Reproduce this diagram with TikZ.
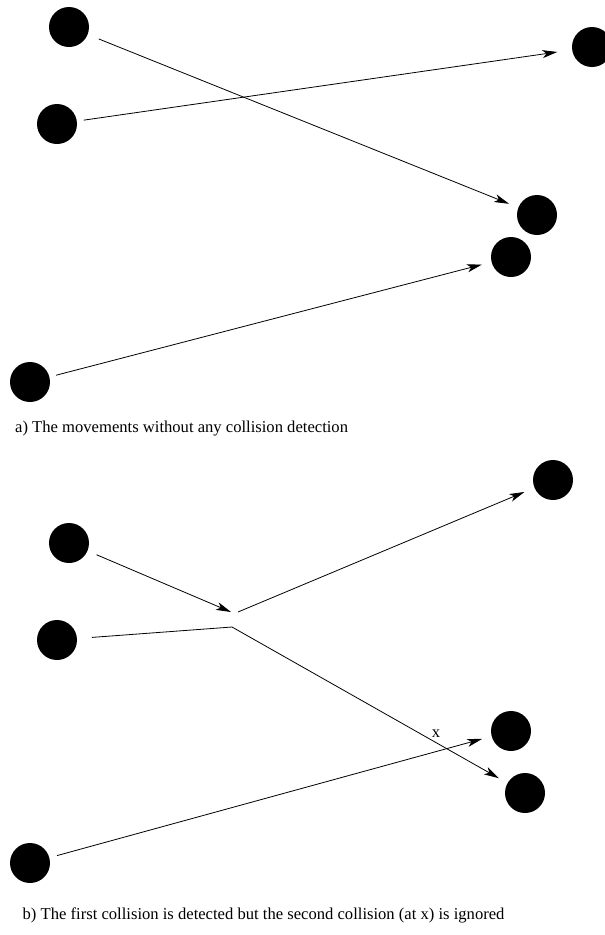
\documentclass[tikz,border=0pt]{standalone}
\usepackage{fontspec}
\setmainfont{Liberation Serif}
\usetikzlibrary{arrows.meta}

\tikzset{
  ball/.style={circle,fill=black,inner sep=0pt,outer sep=0pt,minimum size=40pt},
  mv/.style={line width=0.8pt},
  mvarr/.style={mv,-{Stealth[length=15pt,width=8pt,inset=4pt]}},
  caption/.style={anchor=base west,inner sep=0pt,font=\fontsize{16.6}{19}\selectfont}
}

\begin{document}
\begin{tikzpicture}[x=1pt,y=-1pt]
  \useasboundingbox (0,0) rectangle (605,935);

  % a) no collision detection
  \node[ball] (a1) at (69,27) {};
  \node[ball] (a2) at (57,124) {};
  \node[ball] (a3) at (592,47) {};
  \node[ball] (a4) at (537,215) {};
  \node[ball] (a5) at (511,257) {};
  \node[ball] (a6) at (30,382) {};

  \draw[mvarr,shorten <=12pt,shorten >=10pt] (a1) -- (a4);
  \draw[mvarr,shorten <=7pt,shorten >=15pt] (a2) -- (a3);
  \draw[mvarr,shorten <=7pt,shorten >=10pt] (a6) -- (a5);

  \node[caption] (capa) at (15,432) {a) The movements without any collision detection};

  % b) first collision detected
  \node[ball] (b1) at (69,543) {};
  \node[ball] (b2) at (57,640) {};
  \node[ball] (b3) at (553,480) {};
  \node[ball] (b4) at (511,731) {};
  \node[ball] (b5) at (525,793) {};
  \node[ball] (b6) at (30,863) {};

  \coordinate (hit) at (231,612);
  \coordinate (bounce) at (238,612);
  \coordinate (bend) at (232,627);

  \draw[mvarr,shorten <=10pt] (b1) -- (hit);
  \draw[mvarr,shorten >=11pt] (bounce) -- (b3);
  \draw[mvarr,shorten <=15pt,shorten >=10pt] (b2) -- (bend) -- (b5);
  \draw[mvarr,shorten <=8pt,shorten >=10pt] (b6) -- (b4);

  \node[anchor=base,inner sep=0pt,font=\fontsize{16.6}{19}\selectfont] (missed) at (436,737) {x};

  \node[caption] (capb) at (22.5,919) {b) The first collision is detected but the second collision (at x) is ignored};
\end{tikzpicture}
\end{document}
